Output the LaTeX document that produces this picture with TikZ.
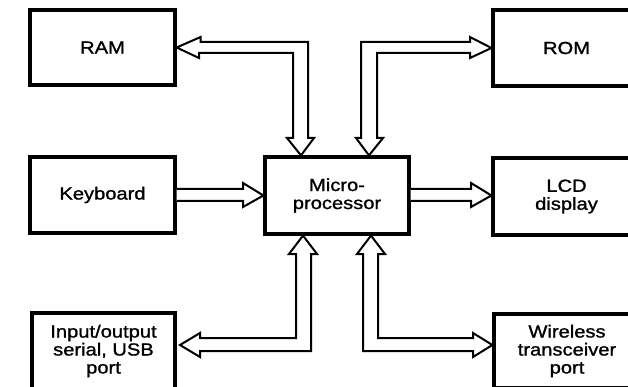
\documentclass[tikz,border=0pt]{standalone}
\usepackage{fontspec}
\newfontfamily\labfont[FakeStretch=1.15,FakeBold=1.2]{Liberation Sans}
\begin{document}
\begin{tikzpicture}[x=1pt,y=-1pt,
  blk/.style={draw=black,line width=3.2pt,rectangle,inner sep=0pt,align=center,
    font={\labfont\fontsize{17.5pt}{18pt}\selectfont}},
  hollow/.style={draw=black,line width=2pt,fill=white,line join=miter}]
\useasboundingbox (0,0) rectangle (628,387);
\fill[white] (0,0) rectangle (628,387);
\clip (0,0) rectangle (628,387);
\node[blk,minimum width=145pt,minimum height=75pt] (ram) at (102.5,47.5) {RAM};
\node[blk,minimum width=145pt,minimum height=76pt] (kbd) at (102.5,195) {Keyboard};
\node[blk,minimum width=143pt,minimum height=76pt] (io) at (103.5,351) {Input/output\\serial, USB\\port};
\node[blk,minimum width=144pt,minimum height=77pt] (mp) at (337,195.5) {Micro-\\processor};
\node[blk,minimum width=147pt,minimum height=76pt] (rom) at (566.5,48) {ROM};
\node[blk,minimum width=147pt,minimum height=77pt] (lcd) at (566.5,196.5) {LCD\\display};
\node[blk,minimum width=146pt,minimum height=74pt] (wl) at (567,351) {Wireless\\transceiver\\port};
% RAM <-> Microprocessor
\draw[hollow] (ram.east) -- ++(24,-10.5) -- ++(0,5) -- (308,42) -- (308,138) -- (314,138)
  -- (mp.north -| 301,0) -- (287,138) -- (293,138) -- (293,53) -- (199,53) -- (199,58) -- cycle;
% ROM <-> Microprocessor
\draw[hollow] (rom.west) -- (470,37) -- (470,42) -- (361,42) -- (361,138) -- (356,138)
  -- (mp.north -| 369,0) -- (383,138) -- (377,138) -- (377,53) -- (470,53) -- (470,58) -- cycle;
% Keyboard -> Microprocessor
\draw[hollow] (kbd.east |- 0,189) -- (243,189) -- (243,183) -- (mp.west |- 0,195.5)
  -- (243,207) -- (243,201) -- (kbd.east |- 0,201);
% Microprocessor -> LCD
\draw[hollow] (mp.east |- 0,189) -- (471,189) -- (471,183) -- (lcd.west |- 0,195.5)
  -- (471,207) -- (471,201) -- (mp.east |- 0,201);
% Microprocessor <-> I/O
\draw[hollow] (mp.south -| 303,0) -- (317,254) -- (311,254) -- (311,351) -- (200,351) -- (200,357)
  -- (180,345) -- (200,333) -- (200,338) -- (296,338) -- (296,254) -- (289,254) -- cycle;
% Microprocessor <-> Wireless
\draw[hollow] (mp.south -| 371,0) -- (385,254) -- (378,254) -- (378,338) -- (473,338) -- (473,333)
  -- (wl.west |- 0,345) -- (473,357) -- (473,351) -- (363,351) -- (363,254) -- (357,254) -- cycle;
\end{tikzpicture}
\end{document}
